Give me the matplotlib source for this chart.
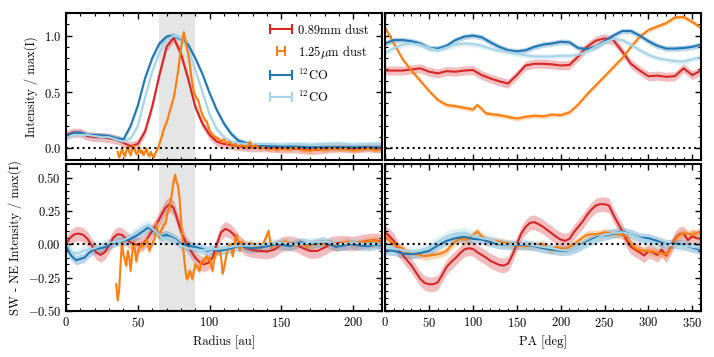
import numpy as np
import matplotlib
matplotlib.use("Agg")
from matplotlib import pyplot as plt
from matplotlib.ticker import MultipleLocator
from matplotlib.lines import Line2D
from matplotlib.legend_handler import HandlerLine2D

plt.rcParams["font.family"] = "serif"
plt.rcParams["font.serif"] = ["cmr10"]
plt.rcParams["mathtext.fontset"] = "cm"
plt.rcParams["axes.formatter.use_mathtext"] = True
plt.rcParams["font.size"] = 9

RED = "#d62728"
ORANGE = "#ff7f0e"
BLUE = "#1f77b4"
LBLUE = "#a8d5e6"

# ---- radial profiles (top left) ----
r_prof = [0, 5, 10, 15, 20, 25, 30, 35, 40, 45, 50, 55, 60, 65, 70, 75, 80, 85, 90,
          95, 100, 105, 110, 115, 120, 130, 140, 150, 160, 170, 180, 190, 200, 210, 220]
prof_mm = [0.12, 0.14, 0.14, 0.11, 0.1, 0.1, 0.09, 0.08, 0.05, 0.02, 0.04, 0.15, 0.37, 0.65,
           0.9, 0.98, 0.84, 0.62, 0.37, 0.22, 0.12, 0.06, 0.04, 0.03, 0.02, 0.01, 0.01, 0.0,
           0.0, -0.015, -0.005, 0.01, 0.0, 0.01, 0.0]
prof_co = [0.11, 0.14, 0.14, 0.12, 0.12, 0.115, 0.11, 0.09, 0.08, 0.2, 0.38, 0.62, 0.8, 0.93,
           0.99, 1.0, 0.97, 0.92, 0.8, 0.66, 0.49, 0.34, 0.22, 0.13, 0.07, 0.03, 0.02, 0.02,
           0.015, 0.01, 0.01, 0.01, 0.01, 0.01, 0.01]
prof_co2 = [0.09, 0.12, 0.12, 0.12, 0.11, 0.1, 0.1, 0.08, 0.06, 0.09, 0.2, 0.45, 0.68, 0.85,
            0.96, 1.0, 0.98, 0.87, 0.7, 0.5, 0.3, 0.17, 0.1, 0.06, 0.045, 0.04, 0.04, 0.035,
            0.04, 0.035, 0.04, 0.045, 0.035, 0.04, 0.045]
r_nir = [36, 37, 38, 39, 40, 41, 42, 43, 44, 45, 46, 47, 48, 49, 50, 51, 52, 53, 54, 55,
         56, 57, 58, 59, 60, 61, 62, 63, 64, 65, 66, 67, 68, 69, 70, 71, 72, 73, 74, 75,
         76, 77, 78, 79, 80, 81, 82, 83, 84, 85, 86, 87, 88, 89, 90, 91, 92, 93, 94, 95,
         96, 97, 98, 99, 100, 102, 104, 106, 108, 110, 112, 114, 116, 118, 120, 122, 124,
         126, 128, 130, 132, 135, 138, 141, 144, 147, 150, 155, 160, 165, 170, 175, 180,
         185, 190, 195, 200, 205, 210, 215, 220]
prof_nir = [-0.03, -0.08, -0.05, 0.0, -0.04, -0.07, -0.02, 0.02, -0.03, -0.06, -0.01, 0.03,
            -0.02, -0.05, -0.03, 0.01, -0.04, -0.02, -0.06, -0.03, 0.0, -0.05, -0.07, -0.03,
            -0.06, -0.08, -0.05, -0.02, 0.0, 0.04, 0.08, 0.12, 0.17, 0.2, 0.23, 0.27, 0.32,
            0.36, 0.41, 0.45, 0.52, 0.6, 0.68, 0.78, 0.88, 0.96, 1.03, 0.97, 0.9, 0.84, 0.76,
            0.66, 0.58, 0.5, 0.47, 0.44, 0.43, 0.38, 0.33, 0.3, 0.27, 0.25, 0.24, 0.2, 0.16,
            0.12, 0.1, 0.09, 0.06, 0.08, 0.04, 0.06, 0.02, 0.04, 0.01, 0.03, 0.02, 0.0, 0.06,
            0.01, 0.03, 0.0, 0.01, -0.01, 0.0, -0.015, 0.0, -0.01, 0.005, -0.015, -0.02,
            -0.005, -0.015, 0.0, -0.01, -0.005, -0.02, -0.01, 0.0, -0.015, -0.01]

# ---- azimuthal profiles (top right) ----
pa = [0, 10, 20, 30, 40, 50, 60, 70, 80, 90, 100, 110, 120, 130, 140, 150, 160, 170, 180,
      190, 200, 210, 220, 230, 240, 250, 260, 270, 280, 290, 300, 310, 320, 330, 340, 350, 360]
az_mm = [0.69, 0.69, 0.69, 0.7, 0.71, 0.68, 0.665, 0.685, 0.68, 0.69, 0.695, 0.65, 0.62,
         0.595, 0.575, 0.65, 0.735, 0.75, 0.75, 0.745, 0.735, 0.74, 0.815, 0.9, 0.955, 0.975,
         0.96, 0.86, 0.75, 0.69, 0.64, 0.645, 0.635, 0.64, 0.71, 0.65, 0.69]
az_co = [0.93, 0.96, 0.96, 0.95, 0.93, 0.89, 0.885, 0.91, 0.96, 0.99, 1.0, 0.985, 0.94, 0.9,
         0.87, 0.86, 0.87, 0.9, 0.92, 0.93, 0.945, 0.94, 0.89, 0.88, 0.9, 0.95, 1.0, 1.04,
         1.04, 1.0, 0.95, 0.91, 0.885, 0.885, 0.89, 0.9, 0.92]
az_co2 = [0.845, 0.89, 0.92, 0.93, 0.92, 0.89, 0.87, 0.895, 0.92, 0.93, 0.925, 0.91, 0.885,
          0.865, 0.855, 0.84, 0.825, 0.815, 0.815, 0.815, 0.82, 0.82, 0.83, 0.86, 0.9, 0.94,
          0.97, 0.96, 0.92, 0.87, 0.83, 0.8, 0.785, 0.775, 0.77, 0.79, 0.81]
pa_nir = [0, 10, 20, 30, 40, 50, 60, 70, 80, 90, 100, 105, 110, 115, 120, 130, 140, 150,
          160, 170, 180, 190, 200, 210, 220, 230, 240, 250, 260, 270, 280, 290, 300, 310,
          320, 330, 340, 350, 360]
az_nir = [1.07, 0.93, 0.79, 0.69, 0.6, 0.51, 0.43, 0.385, 0.375, 0.36, 0.345, 0.385, 0.35,
          0.31, 0.305, 0.295, 0.28, 0.265, 0.28, 0.29, 0.285, 0.3, 0.295, 0.32, 0.39, 0.48,
          0.56, 0.64, 0.72, 0.8, 0.9, 0.99, 1.05, 1.08, 1.11, 1.16, 1.165, 1.12, 1.07]

# ---- SW - NE radial differences (bottom left) ----
r_d_mm = [0, 3, 6, 9, 12, 15, 18, 21, 24, 27, 30, 33, 36, 39, 42, 45, 48, 51, 54, 57, 60,
          63, 66, 69, 72, 75, 78, 81, 84, 87, 90, 93, 96, 99, 102, 105, 108, 111, 114, 117,
          120, 125, 130, 135, 140, 145, 150, 155, 160, 165, 170, 175, 180, 185, 190, 195,
          200, 205, 210, 215, 220]
diff_mm = [0.0, 0.05, 0.075, 0.08, 0.07, 0.04, -0.01, -0.06, -0.08, -0.06, -0.01, 0.05,
           0.075, 0.07, 0.04, 0.015, 0.0, -0.005, 0.01, 0.05, 0.1, 0.15, 0.21, 0.27, 0.3,
           0.27, 0.17, 0.07, 0.0, -0.05, -0.1, -0.135, -0.15, -0.14, -0.1, 0.0, 0.09, 0.115,
           0.1, 0.07, 0.02, -0.03, -0.045, -0.05, -0.055, -0.04, 0.0, 0.01, 0.0, -0.03, -0.05,
           -0.05, -0.025, 0.005, 0.01, 0.01, 0.005, 0.015, 0.025, 0.03, 0.02]
r_d_co = [0, 2, 4, 7, 10, 13, 16, 20, 24, 28, 31, 35, 40, 45, 50, 54, 57, 60, 63, 66, 70,
          74, 77, 80, 85, 90, 95, 98, 102, 107, 111, 115, 121, 128, 135, 140, 147, 156, 163,
          170, 179, 188, 198, 205, 210, 216, 220]
diff_co = [0.0, -0.06, -0.09, -0.12, -0.11, -0.1, -0.065, -0.035, -0.03, -0.02, 0.0, 0.02,
           0.025, 0.04, 0.07, 0.1, 0.125, 0.11, 0.09, 0.06, 0.07, 0.05, 0.03, 0.0, -0.01,
           -0.02, -0.035, -0.05, -0.04, -0.05, -0.04, -0.03, -0.01, -0.03, -0.025, -0.015,
           0.0, -0.015, 0.015, 0.0, 0.02, -0.02, 0.0, -0.01, -0.015, -0.005, -0.01]
r_d_co2 = [0, 4, 8, 12, 16, 20, 26, 30, 35, 40, 45, 50, 54, 57, 60, 64, 68, 72, 76, 80, 85,
           90, 95, 100, 105, 110, 115, 120, 130, 140, 150, 160, 170, 180, 190, 200, 210, 220]
diff_co2 = [0.02, -0.06, -0.07, -0.05, -0.04, -0.03, 0.0, 0.01, 0.02, 0.03, 0.06, 0.1, 0.13,
            0.14, 0.12, 0.08, 0.04, 0.05, 0.03, -0.01, -0.03, -0.04, -0.045, -0.04, -0.035,
            -0.03, -0.02, -0.01, -0.01, 0.0, 0.01, 0.0, 0.01, 0.02, 0.0, 0.01, 0.0, 0.0]
r_d_nir = [35, 36, 37, 38, 39, 40, 41, 42, 43, 44, 45, 46, 47, 48, 49, 50, 51, 52, 53, 54,
           55, 56, 57, 58, 59, 60, 61, 62, 63, 64, 65, 66, 67, 68, 69, 70, 71, 72, 73, 74,
           75, 76, 77, 78, 79, 80, 81, 82, 83, 84, 85, 86, 87, 88, 89, 90, 91, 92, 93, 94,
           95, 96, 97, 98, 99, 100, 101, 102, 103, 104, 105, 106, 107, 108, 109, 110, 111,
           112, 113, 114, 115, 116, 117, 118, 119, 120, 121, 122, 124, 126, 128, 130, 132,
           134, 136, 138, 140, 141, 142, 143, 145, 147, 150, 153, 156, 160, 164, 168, 172,
           176, 180, 184, 188, 192, 196, 200, 204, 208, 212, 216, 220]
diff_nir = [-0.3, -0.42, -0.35, -0.15, 0.03, -0.08, -0.12, -0.16, -0.05, -0.1, -0.2, -0.08,
            0.02, -0.05, -0.13, -0.06, -0.03, 0.0, -0.02, 0.01, 0.0, 0.04, 0.0, -0.05, -0.02,
            0.0, 0.03, 0.05, 0.16, 0.08, 0.05, 0.1, 0.12, 0.15, 0.15, 0.2, 0.25, 0.28, 0.33,
            0.4, 0.48, 0.52, 0.46, 0.44, 0.35, 0.2, 0.05, -0.08, -0.18, -0.26, -0.25, -0.2,
            -0.22, -0.26, -0.2, -0.15, -0.17, -0.18, -0.2, -0.14, -0.12, -0.14, -0.1, -0.09,
            -0.12, -0.1, -0.16, -0.2, -0.12, -0.08, -0.07, -0.05, -0.04, -0.1, -0.22, -0.18,
            -0.12, -0.06, -0.03, 0.0, -0.02, -0.09, -0.03, 0.05, 0.07, 0.0, -0.05, 0.02, 0.0,
            -0.03, 0.01, 0.0, -0.02, 0.0, -0.03, 0.02, 0.07, 0.1, 0.03, -0.03, 0.0, -0.01,
            0.01, 0.02, 0.0, -0.01, 0.01, -0.02, 0.0, 0.01, 0.0, 0.01, -0.01, 0.01, 0.02, 0.0,
            0.01, 0.02, 0.025, 0.03, 0.01]

# ---- SW - NE azimuthal differences (bottom right) ----
pa5 = [0, 5, 10, 15, 20, 25, 30, 35, 40, 45, 50, 55, 60, 65, 70, 75, 80, 85, 90, 95, 100,
       105, 110, 115, 120, 125, 130, 135, 140, 145, 150, 155, 160, 165, 170, 175, 180, 185,
       190, 195, 200, 205, 210, 215, 220, 225, 230, 235, 240, 245, 250, 255, 260, 265, 270,
       275, 280, 285, 290, 295, 300, 305, 310, 315, 320, 325, 330, 335, 340, 345, 350, 355, 360]
adiff_mm = [0.09, 0.06, 0.025, -0.04, -0.08, -0.12, -0.16, -0.21, -0.26, -0.29, -0.3, -0.3,
            -0.285, -0.23, -0.17, -0.135, -0.105, -0.07, -0.04, -0.03, -0.035, -0.06, -0.08,
            -0.1, -0.125, -0.14, -0.155, -0.16, -0.145, -0.08, 0.0, 0.08, 0.13, 0.16, 0.165,
            0.15, 0.13, 0.105, 0.08, 0.055, 0.035, 0.025, 0.04, 0.09, 0.13, 0.17, 0.22, 0.26,
            0.29, 0.3, 0.3, 0.29, 0.22, 0.16, 0.1, 0.03, -0.02, -0.04, -0.06, -0.085, -0.05,
            -0.06, -0.08, -0.04, -0.085, -0.03, 0.04, 0.075, 0.08, 0.03, 0.06, 0.045, 0.04]
adiff_nir = [0.06, 0.03, 0.0, -0.02, -0.03, -0.06, -0.07, -0.075, -0.08, -0.09, -0.085,
             -0.08, -0.075, -0.065, -0.05, -0.01, 0.02, 0.04, 0.035, 0.04, 0.07, 0.095, 0.06,
             0.03, 0.025, 0.022, 0.02, 0.012, 0.005, -0.002, -0.01, -0.012, -0.015, -0.012,
             -0.01, -0.005, 0.0, -0.03, -0.045, -0.02, -0.03, -0.035, -0.02, 0.0, 0.025, 0.05,
             0.07, 0.075, 0.075, 0.08, 0.09, 0.085, 0.08, 0.075, 0.07, 0.06, 0.0, -0.03,
             -0.045, -0.05, -0.05, -0.055, -0.065, -0.07, -0.075, -0.04, 0.03, 0.07, 0.08,
             0.08, 0.07, 0.085, 0.095]
adiff_co = [-0.045, -0.05, -0.07, -0.075, -0.065, -0.05, -0.01, 0.025, 0.045, 0.055, 0.04,
            0.035, 0.015, 0.0, -0.005, -0.005, -0.005, -0.015, -0.03, -0.04, -0.05, -0.045,
            -0.02, 0.02, 0.05, 0.065, 0.08, 0.095, 0.075, 0.05, 0.045, 0.025, 0.0, 0.005,
            -0.005, -0.025, -0.045]
adiff_co2 = [-0.01, -0.03, -0.045, -0.055, -0.05, -0.02, 0.02, 0.06, 0.08, 0.09, 0.065,
             0.045, 0.035, 0.005, -0.005, 0.0, 0.0, -0.01, -0.02, -0.03, -0.045, -0.045,
             -0.02, 0.01, 0.04, 0.07, 0.085, 0.09, 0.075, 0.045, 0.025, 0.005, 0.0, -0.01,
             -0.01, -0.02, -0.03]

# uncertainty half-widths (top row, bottom row)
err_mm = [0.04, 0.055]
err_nir = [0.02, 0.03]
err_co = [0.025, 0.035]
err_co2 = [0.025, 0.04]

labels = ["0.89mm dust", r"1.25$\mu$m dust", r"$^{12}$CO", r"$^{12}$CO"]


def draw(ax, x, y, err, color):
    x = np.asarray(x)
    y = np.asarray(y)
    ax.fill_between(x, y - err, y + err, color=color, alpha=0.3, lw=0)
    ax.plot(x, y, color=color, lw=1.5)


fig, axes = plt.subplots(2, 2, figsize=(7.14, 3.57), dpi=100)
plt.subplots_adjust(left=0.0924, right=0.982, top=0.9636, bottom=0.129,
                    wspace=0.01, hspace=0.03)
(ax1, ax2), (ax3, ax4) = axes

for ax in (ax1, ax3):
    ax.axvspan(65, 90, color="0.5", alpha=0.2, lw=0, zorder=0)

draw(ax1, r_prof, prof_mm, err_mm[0], RED)
draw(ax1, r_prof, prof_co, err_co[0], BLUE)
draw(ax1, r_prof, prof_co2, err_co2[0], LBLUE)
draw(ax1, r_nir, prof_nir, err_nir[0], ORANGE)

draw(ax2, pa, az_mm, err_mm[0], RED)
draw(ax2, pa_nir, az_nir, err_nir[0], ORANGE)
draw(ax2, pa, az_co, err_co[0], BLUE)
draw(ax2, pa, az_co2, err_co2[0], LBLUE)

draw(ax3, r_d_mm, diff_mm, err_mm[1], RED)
draw(ax3, r_d_nir, diff_nir, err_nir[1], ORANGE)
draw(ax3, r_d_co, diff_co, err_co[1], BLUE)
draw(ax3, r_d_co2, diff_co2, err_co2[1], LBLUE)

draw(ax4, pa5, adiff_mm, err_mm[1], RED)
draw(ax4, pa5, adiff_nir, err_nir[1], ORANGE)
draw(ax4, pa, adiff_co, err_co[1], BLUE)
draw(ax4, pa, adiff_co2, err_co2[1], LBLUE)

for ax in axes.flat:
    ax.axhline(0, color="k", ls=":", lw=1.5, zorder=5)
    ax.tick_params(which="both", direction="in", top=True, right=True, labelsize=9)
    ax.tick_params(which="major", length=4, width=1)
    ax.tick_params(which="minor", length=2, width=0.8)
    for s in ax.spines.values():
        s.set_linewidth(1.5)

for ax in (ax1, ax3):
    ax.set_xlim(0, 220)
    ax.xaxis.set_major_locator(MultipleLocator(50))
    ax.xaxis.set_minor_locator(MultipleLocator(10))
for ax in (ax2, ax4):
    ax.set_xlim(0, 360)
    ax.xaxis.set_major_locator(MultipleLocator(50))
    ax.xaxis.set_minor_locator(MultipleLocator(10))
    ax.tick_params(labelleft=False)
for ax in (ax1, ax2):
    ax.set_ylim(-0.1, 1.2)
    ax.yaxis.set_major_locator(MultipleLocator(0.5))
    ax.yaxis.set_minor_locator(MultipleLocator(0.1))
    ax.tick_params(labelbottom=False)
for ax in (ax3, ax4):
    ax.set_ylim(-0.5, 0.6)
    ax.yaxis.set_major_locator(MultipleLocator(0.25))
    ax.yaxis.set_minor_locator(MultipleLocator(0.05))

ax1.set_ylabel("Intensity / max(I)", fontsize=9)
ax3.set_ylabel("SW - NE Intensity / max(I)", fontsize=9)
ax3.set_xlabel("Radius [au]", fontsize=9)
ax4.set_xlabel("PA [deg]", fontsize=9)

# legend handles: a line with end caps, like a horizontal error bar
handles = []
hmap = {}
for c in [RED, ORANGE, BLUE, LBLUE]:
    h = Line2D([], [], color=c, lw=1.5, marker="|", markersize=7, markeredgewidth=1.5)
    handles.append(h)
    hmap[h] = HandlerLine2D(numpoints=2, marker_pad=0.7 if c == ORANGE else 0.13)
ax1.legend(handles, labels, handler_map=hmap, loc="upper right",
           bbox_to_anchor=(0.975, 0.955), borderaxespad=0, frameon=False,
           labelspacing=0.55, handlelength=2.0, handletextpad=0.4, fontsize=9)

fig.savefig("out.png", dpi=100)
